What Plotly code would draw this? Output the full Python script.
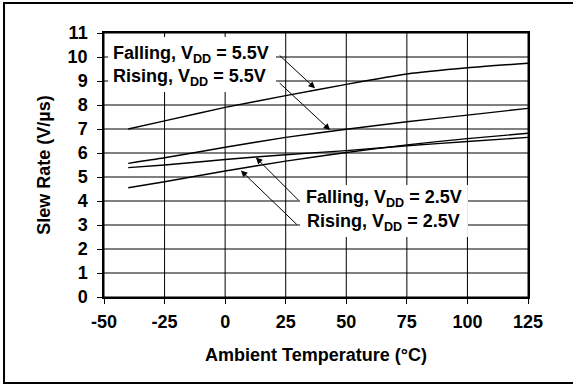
import plotly.graph_objects as go

# Slew rate vs. ambient temperature, four operating conditions
temp_c = [-40, -25, 0, 25, 50, 75, 100, 125]
fall_55 = [7.00, 7.34, 7.90, 8.39, 8.86, 9.29, 9.55, 9.74]
rise_55 = [5.57, 5.80, 6.24, 6.65, 6.99, 7.30, 7.58, 7.86]
fall_25 = [5.39, 5.50, 5.73, 5.93, 6.10, 6.30, 6.48, 6.65]
rise_25 = [4.55, 4.80, 5.25, 5.66, 6.02, 6.34, 6.60, 6.82]

x_ticks = [-50, -25, 0, 25, 50, 75, 100, 125]
y_ticks = list(range(0, 12))

FONT = "Liberation Sans, Arial, Helvetica, sans-serif"
GRID = "black"
X_RANGE = [x_ticks[0], x_ticks[-1]]
Y_RANGE = [y_ticks[0], y_ticks[-1]]

fig = go.Figure()

# grid lines as a single trace under the curves
gx, gy = [], []
for t in x_ticks:
    gx += [t, t, None]
    gy += [Y_RANGE[0], Y_RANGE[1], None]
for v in y_ticks:
    gx += [X_RANGE[0], X_RANGE[1], None]
    gy += [v, v, None]
fig.add_trace(go.Scatter(x=gx, y=gy, mode="lines", line=dict(color=GRID, width=1),
                         hoverinfo="skip", showlegend=False))

for name, vals in [
    ("Falling, VDD = 5.5V", fall_55),
    ("Rising, VDD = 5.5V", rise_55),
    ("Falling, VDD = 2.5V", fall_25),
    ("Rising, VDD = 2.5V", rise_25),
]:
    fig.add_trace(go.Scatter(
        x=temp_c, y=vals, mode="lines", name=name,
        line=dict(color="black", width=1.4, shape="spline", smoothing=0.6),
        showlegend=False,
    ))

# white panels behind the callout labels, then the outer frame
shapes = []
for x0, x1, y0, y1 in [(-48.3, 21.0, 8.54, 10.83), (30.9, 100.2, 2.5, 4.67)]:
    shapes.append(dict(type="rect", xref="x", yref="y", x0=x0, x1=x1, y0=y0, y1=y1,
                       fillcolor="white", line=dict(width=0), layer="above"))
shapes.append(dict(type="rect", xref="paper", yref="paper", x0=-0.2358, x1=1.12,
                   y0=-0.3258, y1=1.1136, line=dict(color="black", width=2),
                   layer="above"))

lab_font = dict(family=FONT, size=18, color="black", weight=700)
labels = [
    ("Falling, V<sub>DD</sub> = 5.5V", -47.3, 10.10),
    ("Rising, V<sub>DD</sub> = 5.5V", -47.1, 9.13),
    ("Falling, V<sub>DD</sub> = 2.5V", 32.5, 4.10),
    ("Rising, V<sub>DD</sub> = 2.5V", 33.0, 3.10),
]
annotations = []
for txt, x, y in labels:
    annotations.append(dict(text=txt, x=x, y=y, xref="x", yref="y",
                            xanchor="left", yanchor="middle", showarrow=False,
                            font=lab_font))

# callout arrows: (tail_x, tail_y) -> (tip_x, tip_y)
arrows = [
    (21.9, 10.12, 37.1, 8.70),
    (21.9, 8.97, 43.3, 6.96),
    (30.9, 3.97, 12.7, 5.81),
    (30.2, 2.96, 6.5, 5.27),
]
for ax, ay, x, y in arrows:
    annotations.append(dict(x=x, y=y, ax=ax, ay=ay, xref="x", yref="y",
                            axref="x", ayref="y", text="", showarrow=True,
                            arrowhead=2, arrowsize=1.3, arrowwidth=1,
                            arrowcolor="black"))

tick_font = dict(family=FONT, size=18, color="black", weight=700)
fig.update_layout(
    width=573, height=385,
    margin=dict(l=104, r=45, t=33, b=88),
    paper_bgcolor="white", plot_bgcolor="white",
    shapes=shapes, annotations=annotations,
)
fig.update_xaxes(
    range=X_RANGE, tickmode="array", tickvals=x_ticks,
    ticktext=[str(v) for v in x_ticks], showgrid=False,
    showline=True, linecolor="black", linewidth=1.5, mirror=True,
    ticks="outside", ticklen=5, tickcolor="black", tickwidth=1,
    tickfont=tick_font, zeroline=False, ticklabelstandoff=3,
    title=dict(text="Ambient Temperature (°C)", font=tick_font, standoff=17),
)
fig.update_yaxes(
    range=Y_RANGE, tickmode="array", tickvals=y_ticks,
    ticktext=[str(v) for v in y_ticks], showgrid=False,
    showline=True, linecolor="black", linewidth=1.5, mirror=True,
    ticks="outside", ticklen=5, tickcolor="black", tickwidth=1,
    tickfont=tick_font, zeroline=False, ticklabelstandoff=6,
    title=dict(text="Slew Rate (V/µs)", font=tick_font, standoff=12),
)

fig.write_html("out.html")
